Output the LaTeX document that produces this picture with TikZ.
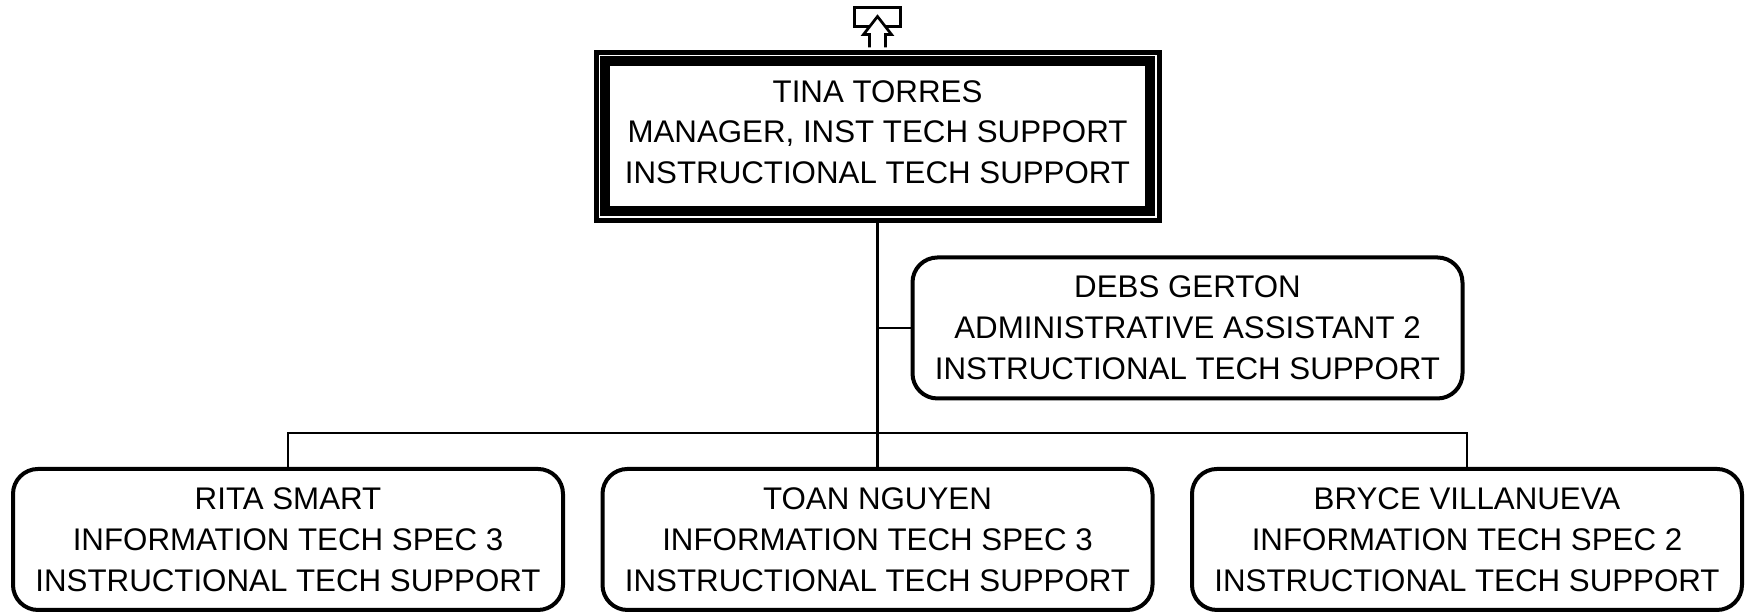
\documentclass[tikz,border=0pt]{standalone}
\usepackage{fontspec}
\setmainfont{Liberation Sans}

\begin{document}
\begin{tikzpicture}[
    every node/.style={font=\fontsize{8.9pt}{11.6pt}\selectfont,align=center},
    boss/.style={draw,line width=0.5mm,minimum width=5.63cm,minimum height=1.68cm,inner sep=0pt,text depth=0.09cm},
    person/.style={draw,line width=0.4mm,rounded corners=2.5mm,minimum width=5.5cm,minimum height=1.41cm,inner sep=0pt},
    link/.style={line width=0.6pt}]
\useasboundingbox (0,0) rectangle (17.45,6.13);

\node[boss] (tina) at (8.775,4.765) {TINA TORRES\\MANAGER, INST TECH SUPPORT\\INSTRUCTIONAL TECH SUPPORT};
\draw[line width=1mm] ([shift={(1.15mm,-1.15mm)}]tina.north west) rectangle ([shift={(-1.15mm,1.15mm)}]tina.south east);

\begin{scope}[shift={(tina.north)},line width=0.27mm]
\draw (-0.23,0.238) rectangle (0.23,0.422);
\draw[fill=white] (-0.08,0.025) -- (-0.08,0.155) -- (-0.14,0.155) -- (0,0.335)
    -- (0.14,0.155) -- (0.08,0.155) -- (0.08,0.025);
\end{scope}

\node[person] (debs) at (11.875,2.85) {DEBS GERTON\\ADMINISTRATIVE ASSISTANT 2\\INSTRUCTIONAL TECH SUPPORT};

\node[person] (rita) at (2.88,0.735) {RITA SMART\\INFORMATION TECH SPEC 3\\INSTRUCTIONAL TECH SUPPORT};
\node[person] (toan) at (8.775,0.735) {TOAN NGUYEN\\INFORMATION TECH SPEC 3\\INSTRUCTIONAL TECH SUPPORT};
\node[person] (bryce) at (14.67,0.735) {BRYCE VILLANUEVA\\INFORMATION TECH SPEC 2\\INSTRUCTIONAL TECH SUPPORT};

\draw[link] (tina.south) -- (toan.north);
\draw[link] (debs.west) -- (debs.west -| tina.south);
\draw[link] (rita.north) -- ++(0,0.34) -| (bryce.north);

\end{tikzpicture}
\end{document}
